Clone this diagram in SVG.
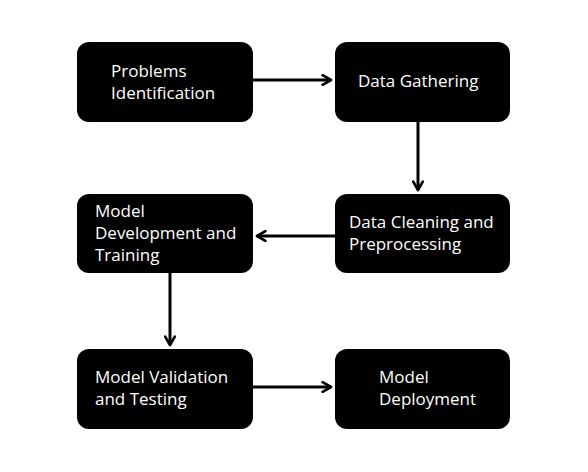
<svg xmlns="http://www.w3.org/2000/svg" width="588" height="472" viewBox="0 0 588 472">
<defs>
<style>
.box{fill:#000}
.t{font-family:"Open Sans","Noto Sans",sans-serif;font-size:17px;fill:#fff}
.c{stroke:#000;stroke-width:3;fill:none}
</style>
<marker id="ah" viewBox="0 0 10 10" refX="8" refY="5" markerWidth="4" markerHeight="4" orient="auto" markerUnits="strokeWidth">
<path d="M1,1 L8,5 L1,9" fill="none" stroke="#000" stroke-width="2.2" stroke-linecap="round" stroke-linejoin="round"/>
</marker>
</defs>
<rect width="588" height="472" fill="#fff"/>
<g id="connectors">
<line class="c" x1="253" y1="80" x2="331" y2="80" marker-end="url(#ah)"/>
<line class="c" x1="418" y1="122" x2="418" y2="190" marker-end="url(#ah)"/>
<line class="c" x1="335" y1="236" x2="257" y2="236" marker-end="url(#ah)"/>
<line class="c" x1="170" y1="273" x2="170" y2="345" marker-end="url(#ah)"/>
<line class="c" x1="253" y1="387" x2="331" y2="387" marker-end="url(#ah)"/>
</g>
<g id="n1"><rect class="box" x="77" y="42" width="176" height="80" rx="12"/>
<text class="t" x="111" y="77">Problems</text><text class="t" x="111" y="99">Identification</text></g>
<g id="n2"><rect class="box" x="335" y="42" width="175" height="80" rx="12"/>
<text class="t" x="358" y="87">Data Gathering</text></g>
<g id="n3"><rect class="box" x="335" y="194" width="175" height="79" rx="12"/>
<text class="t" x="349" y="228">Data Cleaning and</text><text class="t" x="349" y="250">Preprocessing</text></g>
<g id="n4"><rect class="box" x="77" y="194" width="176" height="79" rx="12"/>
<text class="t" x="95" y="217">Model</text><text class="t" x="95" y="239">Development and</text><text class="t" x="95" y="261">Training</text></g>
<g id="n5"><rect class="box" x="77" y="349" width="176" height="80" rx="12"/>
<text class="t" x="95" y="383">Model Validation</text><text class="t" x="95" y="405">and Testing</text></g>
<g id="n6"><rect class="box" x="335" y="349" width="175" height="80" rx="12"/>
<text class="t" x="379" y="383">Model</text><text class="t" x="379" y="405">Deployment</text></g>
</svg>
